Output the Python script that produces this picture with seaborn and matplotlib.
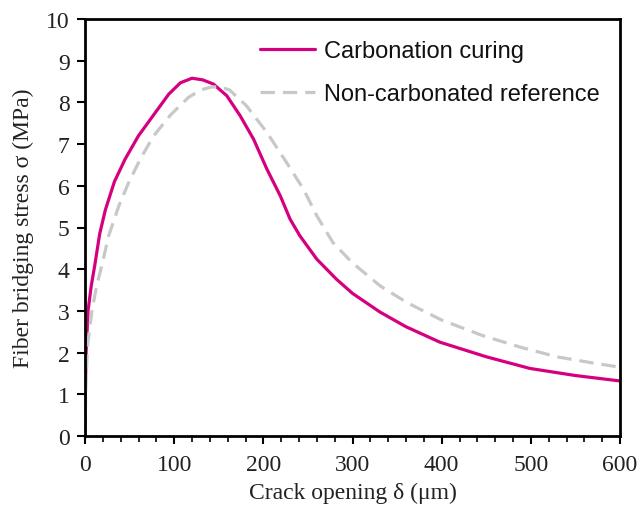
import matplotlib
matplotlib.use("Agg")
import matplotlib.pyplot as plt
from matplotlib.ticker import MultipleLocator
import seaborn as sns
import pandas as pd

# Carbonation curing
carb_x = [0, 0.5, 1.2, 3.4, 7, 11, 16.5, 22.8, 33, 45, 60, 79, 94, 107, 120, 132, 144, 159,
          174, 189, 204, 219, 230, 241, 260, 282, 300, 331, 360, 398, 450, 499, 550, 600]
carb_y = [0, 1.2, 2.0, 3.0, 3.6, 4.1, 4.85, 5.42, 6.1, 6.64, 7.2, 7.76, 8.2, 8.47, 8.58, 8.54, 8.44, 8.16,
          7.68, 7.12, 6.4, 5.76, 5.2, 4.8, 4.24, 3.76, 3.42, 2.97, 2.62, 2.25, 1.9, 1.62, 1.45, 1.32]

# Non-carbonated reference
ref_x = [0, 1, 3, 7.8, 13, 19, 26.5, 38, 49, 62, 77, 96, 116, 130, 142, 152, 162, 181, 204, 226, 245, 260, 278,
         300, 331, 361, 400, 447, 490, 529, 570, 600]
ref_y = [0, 1.3, 2.2, 3.0, 3.6, 4.1, 4.8, 5.52, 6.08, 6.64, 7.2, 7.7, 8.12, 8.3, 8.37, 8.37, 8.3, 7.92, 7.28, 6.56, 5.92, 5.28, 4.64,
         4.15, 3.6, 3.2, 2.78, 2.4, 2.12, 1.9, 1.75, 1.65]

labels = ["Carbonation curing", "Non-carbonated reference"]

df = pd.concat([
    pd.DataFrame({"x": carb_x, "y": carb_y, "series": labels[0]}),
    pd.DataFrame({"x": ref_x, "y": ref_y, "series": labels[1]}),
])

sns.set_style("white")
plt.rcParams['font.family'] = ['Liberation Serif', 'DejaVu Serif']

fig = plt.figure(figsize=(6.41, 5.10), dpi=100)
ax = fig.add_axes([85/641, 73/510, 535/641, 417/510])

sns.lineplot(data=df, x="x", y="y", hue="series", style="series",
             palette={labels[0]: "#D6007F", labels[1]: "#C8C8C8"},
             dashes={labels[0]: "", labels[1]: (4.5, 2.5)},
             linewidth=2.3, sort=False, estimator=None, ax=ax)
for ln in ax.get_lines():
    ln.set_solid_joinstyle("round")
    ln.set_dash_capstyle("butt")

ax.set_xlim(0, 600)
ax.set_ylim(0, 10)
ax.xaxis.set_major_locator(MultipleLocator(100))
ax.xaxis.set_minor_locator(MultipleLocator(20))
ax.yaxis.set_major_locator(MultipleLocator(1))

for s in ax.spines.values():
    s.set_color("black")
    s.set_linewidth(2)

ax.tick_params(axis="both", which="major", direction="out", length=6, width=1.5,
               colors="black", labelsize=17, bottom=True, left=True, pad=5)
ax.tick_params(axis="x", which="major", pad=7)
ax.tick_params(axis="x", which="minor", direction="out", length=4, width=1.2,
               colors="black", bottom=True)
for lab in ax.get_xticklabels() + ax.get_yticklabels():
    lab.set_color("#222222")

ax.set_xlabel("Crack opening δ (μm)", fontsize=17, color="#222222", labelpad=5)
ax.set_ylabel("Fiber bridging stress σ (MPa)", fontsize=17, color="#222222", labelpad=9)

leg = ax.legend(loc="upper left", bbox_to_anchor=((260 - 85) / 535, (437 - 41) / 417),
                frameon=False, borderaxespad=0, borderpad=0,
                prop={"family": "Liberation Sans", "size": 17},
                handlelength=2.35, labelspacing=0.9, handletextpad=0.35)
for t in leg.get_texts():
    t.set_color("#111111")

fig.savefig("out.png", dpi=100)
